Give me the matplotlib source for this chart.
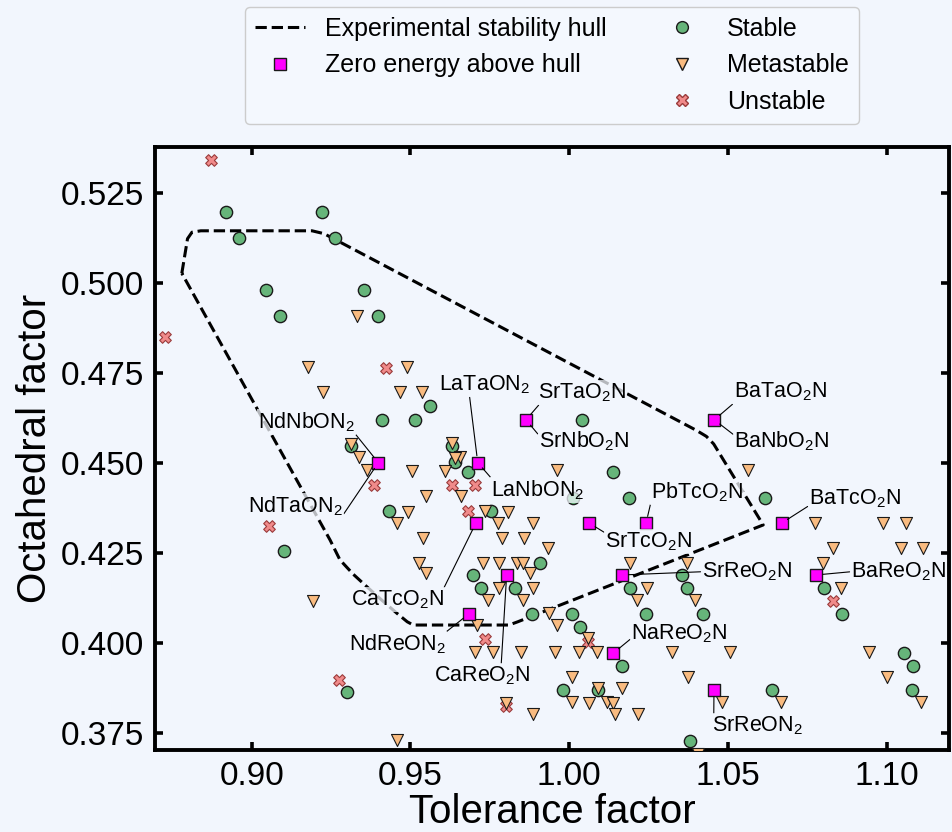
import matplotlib
matplotlib.use("Agg")
import matplotlib.pyplot as plt
from matplotlib.lines import Line2D

plt.rcParams['font.family'] = ['Liberation Sans', 'DejaVu Sans']
plt.rcParams['mathtext.default'] = 'regular'

# ---- data ----
stable_t = [0.8918, 0.9220, 0.8960, 0.9263, 0.9046, 0.9354, 0.9090, 0.9398,
            0.9562, 0.9411, 0.9514, 1.0039, 0.9314, 0.9630, 0.9640, 0.9680,
            1.0139, 1.0011, 1.0188, 1.0617, 0.9432, 0.9753, 0.9102, 0.9908,
            0.9698, 1.0354, 0.9721, 0.9829, 1.0191, 1.0370, 1.0803, 0.9882,
            1.0008, 1.0242, 1.0422, 1.0860, 1.0034, 1.0165, 1.1054, 1.1084,
            0.9299, 0.9981, 1.0092, 1.0640, 1.1079, 1.0380]
stable_o = [0.5196, 0.5196, 0.5123, 0.5123, 0.4979, 0.4979, 0.4908, 0.4908,
            0.4656, 0.4619, 0.4619, 0.4619, 0.4546, 0.4545, 0.4501, 0.4475,
            0.4475, 0.4403, 0.4403, 0.4403, 0.4367, 0.4367, 0.4255, 0.4221,
            0.4188, 0.4188, 0.4151, 0.4151, 0.4151, 0.4151, 0.4151, 0.4080,
            0.4080, 0.4080, 0.4080, 0.4080, 0.4044, 0.3935, 0.3971, 0.3935,
            0.3862, 0.3869, 0.3868, 0.3869, 0.3869, 0.3728]

meta_t = [0.9331, 0.9178, 0.9490, 0.9224, 0.9467, 0.9535, 0.9314, 0.9630,
          0.9339, 0.9656, 0.9640, 0.9362, 0.9504, 0.9609, 0.9961, 1.0562,
          0.9549, 0.9658, 0.9491, 0.9735, 0.9808, 0.9457, 0.9777, 0.9885,
          1.0774, 1.0989, 1.1061, 0.9539, 0.9787, 0.9858, 0.9934, 1.0830,
          1.1045, 1.1115, 0.9528, 0.9729, 0.9780, 0.9835, 0.9854, 1.0191,
          1.0370, 1.0798, 0.9549, 0.9877, 0.9780, 0.9887, 1.0244, 1.0855,
          0.9192, 0.9745, 0.9855, 1.0215, 1.0396, 0.9936, 0.9711, 0.9963,
          1.0060, 0.9703, 0.9761, 0.9847, 0.9955, 1.0032, 1.0087, 1.0323,
          1.0506, 1.0944, 1.0008, 1.0375, 1.1000, 1.0092, 1.0165, 1.0008,
          1.0063, 1.0118, 1.0139, 0.9801, 1.0482, 1.0667, 1.1107, 0.9887,
          1.0144, 1.0218, 0.9457, 1.0406]
meta_o = [0.4908, 0.4765, 0.4765, 0.4695, 0.4695, 0.4695, 0.4552, 0.4554,
          0.4517, 0.4517, 0.4512, 0.4480, 0.4477, 0.4477, 0.4480, 0.4480,
          0.4406, 0.4406, 0.4362, 0.4367, 0.4362, 0.4333, 0.4333, 0.4333,
          0.4333, 0.4333, 0.4333, 0.4290, 0.4290, 0.4290, 0.4262, 0.4262,
          0.4262, 0.4262, 0.4222, 0.4222, 0.4222, 0.4222, 0.4222, 0.4222,
          0.4222, 0.4222, 0.4193, 0.4193, 0.4153, 0.4153, 0.4153, 0.4153,
          0.4116, 0.4119, 0.4119, 0.4119, 0.4119, 0.4083, 0.4049, 0.4049,
          0.4012, 0.3975, 0.3975, 0.3975, 0.3975, 0.3975, 0.3975, 0.3975,
          0.3975, 0.3975, 0.3906, 0.3906, 0.3906, 0.3873, 0.3873, 0.3836,
          0.3832, 0.3836, 0.3832, 0.3832, 0.3836, 0.3836, 0.3836, 0.3803,
          0.3803, 0.3803, 0.3729, 0.3690]

unstable_t = [0.8872, 0.8727, 0.9423, 0.9386, 0.9632, 0.9703, 0.9682, 0.9055,
              0.9735, 1.0060, 0.9275, 0.9801, 1.0832]
unstable_o = [0.5341, 0.4850, 0.4762, 0.4438, 0.4438, 0.4438, 0.4367, 0.4324,
              0.4010, 0.4003, 0.3896, 0.3825, 0.4116]

zero_t = [0.9399, 0.9712, 0.9864, 1.0457, 0.9706, 1.0063, 1.0242, 1.0669,
          0.9803, 1.0165, 1.0777, 0.9684, 1.0139, 1.0456]
zero_o = [0.4500, 0.4500, 0.4619, 0.4619, 0.4332, 0.4332, 0.4332, 0.4332,
          0.4188, 0.4188, 0.4188, 0.4080, 0.3971, 0.3869]

hull_t = [0.8780, 0.8798, 0.8812, 0.8840, 0.9190, 0.9228, 1.0400, 1.0432,
          1.0455, 1.0611, 0.9838, 0.9810, 0.9509, 0.9490, 0.9457, 0.9410,
          0.9362, 0.9320, 0.9278, 0.9247, 0.8780]
hull_o = [0.5026, 0.5122, 0.5140, 0.5144, 0.5144, 0.5136, 0.4590, 0.4573,
          0.4552, 0.4327, 0.4058, 0.4049, 0.4049, 0.4058, 0.4082, 0.4118,
          0.4156, 0.4190, 0.4230, 0.4285, 0.5026]

# compound labels: name, index into zero_* arrays, text position
label_names = [r'NdNbON$_2$', r'NdTaON$_2$', r'LaTaON$_2$', r'LaNbON$_2$',
               r'SrTaO$_2$N', r'SrNbO$_2$N', r'BaTaO$_2$N', r'BaNbO$_2$N',
               r'CaTcO$_2$N', r'SrTcO$_2$N', r'PbTcO$_2$N', r'BaTcO$_2$N',
               r'CaReO$_2$N', r'SrReO$_2$N', r'BaReO$_2$N', r'NdReON$_2$',
               r'NaReO$_2$N', r'SrReON$_2$']
label_idx = [0, 0, 1, 1, 2, 2, 3, 3, 4, 5, 6, 7, 8, 9, 10, 11, 12, 13]
label_t = [0.9173, 0.9138, 0.9732, 0.9902, 1.0040, 1.0047, 1.0664, 1.0670,
           0.9458, 1.0250, 1.0401, 1.0899, 0.9725, 1.0560, 1.1037, 0.9458,
           1.0347, 1.0593]
label_o = [0.4613, 0.4380, 0.4716, 0.4424, 0.4694, 0.4560, 0.4696, 0.4560,
           0.4119, 0.4280, 0.4419, 0.4399, 0.3908, 0.4197, 0.4197, 0.3996,
           0.4024, 0.3769]
# where the leader leaves the label box
label_rel = [(1.0, 0.0), (1.0, 0.1), (0.34, 0.0), (0.0, 1.0),
             (0.02, 0.0), (0.0, 0.75), (0.0, 0.0), (0.0, 0.75),
             (1.0, 1.0), (0.0, 0.9), (0.0, 0.0), (0.0, 0.2),
             (0.7, 1.0), (0.0, 0.5), (0.0, 0.5), (1.0, 1.0),
             (0.0, 0.3), (0.02, 1.0)]

bg = '#f2f6fd'
c_stable = '#66b57a'
c_meta = '#f9bb80'
c_unstable = '#f08a8a'
c_zero = '#ff00ff'

fig = plt.figure(figsize=(9.52, 8.32), dpi=100, facecolor=bg)
ax = fig.add_axes([0.1633, 0.0986, 0.8335, 0.7244], facecolor=bg)

ax.plot(hull_t, hull_o, '--', color='k', lw=2.2, zorder=2)
ax.scatter(unstable_t, unstable_o, s=70, marker='X', c=c_unstable,
           edgecolors='#9a3b3b', linewidths=0.8, zorder=3)
ax.scatter(stable_t, stable_o, s=78, marker='o', c=c_stable,
           edgecolors='#1a1a1a', linewidths=1.0, zorder=3)
ax.scatter(meta_t, meta_o, s=75, marker='v', c=c_meta,
           edgecolors='#1a1a1a', linewidths=0.8, zorder=4)
ax.scatter(zero_t, zero_o, s=70, marker='s', c=c_zero,
           edgecolors='#1a1a1a', linewidths=1.0, zorder=5)

for name, i, tx, ty, rel in zip(label_names, label_idx, label_t, label_o, label_rel):
    ax.annotate(name, xy=(zero_t[i], zero_o[i]), xytext=(tx, ty),
                ha='center', va='center', fontsize=15.5, zorder=6,
                bbox=dict(boxstyle='square,pad=0.05', fc=bg, ec='none', alpha=0.75),
                arrowprops=dict(arrowstyle='-', color='k', lw=0.8, relpos=rel,
                                shrinkA=0, shrinkB=5))

ax.set_xlim(0.8697, 1.1196)
ax.set_ylim(0.3702, 0.5376)
ax.set_xticks([0.90, 0.95, 1.00, 1.05, 1.10])
ax.set_yticks([0.375, 0.400, 0.425, 0.450, 0.475, 0.500, 0.525])
ax.tick_params(direction='in', top=True, right=True, length=6, width=2.6,
               labelsize=24, pad=8)
for sp in ax.spines.values():
    sp.set_linewidth(2.8)
ax.set_xlabel('Tolerance factor', fontsize=29, labelpad=1)
ax.set_ylabel('Octahedral factor', fontsize=29, labelpad=5)

handles = [
    Line2D([], [], ls='--', color='k', lw=2.2),
    Line2D([], [], ls='none', marker='s', ms=8.5, mfc=c_zero, mec='#1a1a1a'),
    Line2D([], [], ls='none'),
    Line2D([], [], ls='none', marker='o', ms=8.5, mfc=c_stable, mec='#1a1a1a'),
    Line2D([], [], ls='none', marker='v', ms=8.5, mfc=c_meta, mec='#1a1a1a'),
    Line2D([], [], ls='none', marker='X', ms=8, mfc=c_unstable, mec='#9a3b3b'),
]
labels = ['Experimental stability hull', 'Zero energy above hull', '',
          'Stable', 'Metastable', 'Unstable']
leg = ax.legend(handles, labels, ncol=2, loc='lower center',
                bbox_to_anchor=(0.5, 1.018), fontsize=18, frameon=True,
                fancybox=True, edgecolor='#cccccc', facecolor='#f4f8fe',
                framealpha=1.0, labelspacing=0.5, columnspacing=2.0)

fig.savefig('out.png', dpi=100, facecolor=bg)
